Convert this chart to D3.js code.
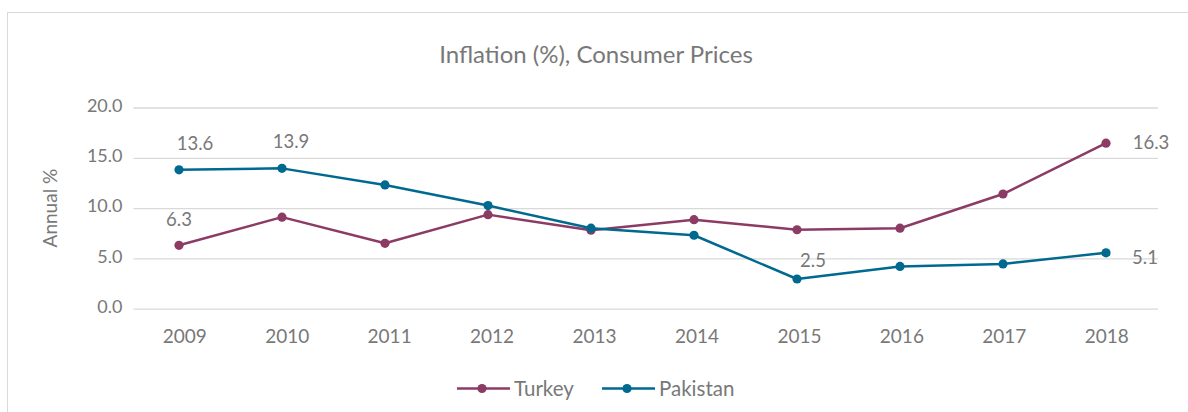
<!DOCTYPE html>
<html>
<head>
<meta charset="utf-8">
<script src="https://cdn.jsdelivr.net/npm/d3@7"></script>
<style>
  html, body { margin: 0; padding: 0; background: #fff; }
  svg { display: block; font-family: Lato, "Open Sans", sans-serif; }
</style>
</head>
<body>
<svg id="chart" width="1188" height="412"></svg>
<script>
// ---- data ----
const years = ["2009","2010","2011","2012","2013","2014","2015","2016","2017","2018"];
const turkey = [6.3, 9.1, 6.5, 9.35, 7.8, 8.85, 7.85, 8.0, 11.4, 16.45];
const pakistan = [13.8, 13.95, 12.3, 10.25, 8.0, 7.3, 2.95, 4.2, 4.45, 5.55];
const yTicks = [0, 5, 10, 15, 20];
const seriesNames = ["Turkey", "Pakistan"];
const labelSeries = ["Pakistan", "Pakistan", "Turkey", "Pakistan", "Turkey", "Pakistan"];
const labelYears = ["2009", "2010", "2009", "2015", "2018", "2018"];
const labelTexts = ["13.6", "13.9", "6.3", "2.5", "16.3", "5.1"];

// ---- layout ----
const colors = { Turkey: "#8c3b65", Pakistan: "#00698f" };
const textColor = "#787878";
const gridColor = "#d9d9d9";
const values = { Turkey: turkey, Pakistan: pakistan };
// label offsets (layout only)
const labelOffsets = [[16, -20], [9, -20], [0, -19], [16, -12], [45, 6], [39, 11]];

const svg = d3.select("#chart");

// frame
svg.append("rect")
  .attr("x", 7.5).attr("y", 12.5)
  .attr("width", 1200).attr("height", 420)
  .attr("fill", "none").attr("stroke", gridColor).attr("stroke-width", 1);

const plotL = 133.5, plotR = 1158;
const y = d3.scaleLinear().domain([0, 20]).range([308.7, 107.5]);
const xBand = d3.scaleBand().domain(years).range([plotL, plotR]);
const x = d3.scalePoint().domain(years).range([179, 1106]);

// title
svg.append("text")
  .attr("x", 596).attr("y", 63)
  .attr("text-anchor", "middle")
  .attr("fill", textColor)
  .style("font-size", "24px")
  .text("Inflation (%), Consumer Prices");

// gridlines + y labels
const yAxis = d3.axisLeft(y).tickValues(yTicks).tickFormat(d3.format(".1f"))
  .tickSize(-(plotR - plotL)).tickPadding(11);
const gy = svg.append("g").attr("transform", `translate(${plotL},0)`).call(yAxis);
gy.select(".domain").remove();
gy.selectAll(".tick line").attr("stroke", gridColor).attr("stroke-width", 1.3);
gy.selectAll(".tick text").attr("fill", textColor)
  .style("font-size", "18px").style("font-family", "Lato, sans-serif")
  .attr("dy", "0.2em");

// x labels
const xAxis = d3.axisBottom(xBand).tickSize(0).tickPadding(0);
const gx = svg.append("g").attr("transform", `translate(0,${y(0)})`).call(xAxis);
gx.select(".domain").remove();
gx.selectAll(".tick text").attr("fill", textColor)
  .style("font-size", "19px").style("font-family", "Lato, sans-serif")
  .attr("y", 34.5).attr("dy", 0);

// y axis title
svg.append("text")
  .attr("transform", `translate(57,${(y(0) + y(20)) / 2}) rotate(-90)`)
  .attr("text-anchor", "middle")
  .attr("fill", textColor)
  .style("font-size", "19px")
  .text("Annual %");

// lines
const line = d3.line().x((d, i) => x(years[i])).y(d => y(d));
seriesNames.forEach(name => {
  const g = svg.append("g");
  g.append("path")
    .datum(values[name])
    .attr("d", line)
    .attr("fill", "none")
    .attr("stroke", colors[name])
    .attr("stroke-width", 2.5)
    .attr("stroke-linejoin", "round");
  g.selectAll("circle")
    .data(values[name])
    .join("circle")
    .attr("cx", (d, i) => x(years[i]))
    .attr("cy", d => y(d))
    .attr("r", 4.6)
    .attr("fill", colors[name]);
});

// data labels
labelTexts.forEach((t, k) => {
  const s = labelSeries[k];
  const idx = years.indexOf(labelYears[k]);
  const v = values[s][idx];
  svg.append("text")
    .attr("x", x(labelYears[k]) + labelOffsets[k][0])
    .attr("y", y(v) + labelOffsets[k][1])
    .attr("text-anchor", "middle")
    .attr("fill", textColor)
    .style("font-size", "18.5px")
    .text(t);
});

// legend
const legendItems = [
  { name: "Turkey", x0: 457 },
  { name: "Pakistan", x0: 602 }
];
const ly = 388.5;
legendItems.forEach(it => {
  const g = svg.append("g");
  g.append("line")
    .attr("x1", it.x0).attr("x2", it.x0 + 53)
    .attr("y1", ly).attr("y2", ly)
    .attr("stroke", colors[it.name]).attr("stroke-width", 2.5);
  g.append("circle")
    .attr("cx", it.x0 + 25).attr("cy", ly).attr("r", 4.6)
    .attr("fill", colors[it.name]);
  g.append("text")
    .attr("x", it.x0 + 57).attr("y", ly + 7)
    .attr("fill", textColor)
    .style("font-size", "20.5px")
    .text(it.name);
});
</script>
</body>
</html>
